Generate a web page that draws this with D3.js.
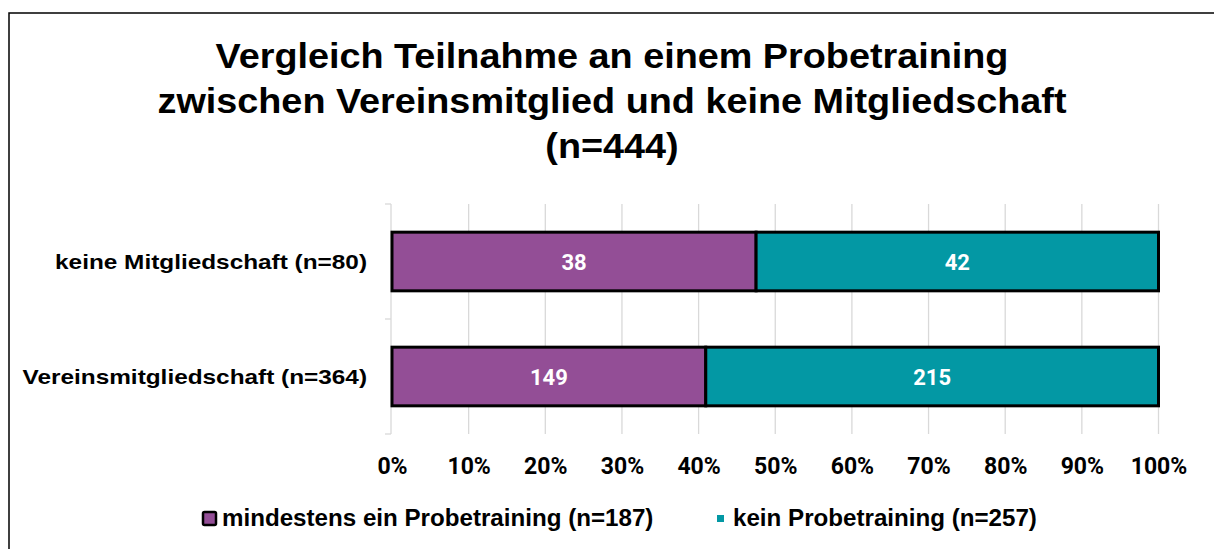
<!DOCTYPE html>
<html>
<head>
<meta charset="utf-8">
<script src="https://cdn.jsdelivr.net/npm/d3@7"></script>
<style>
  html, body { margin: 0; padding: 0; background: #fff; }
  svg { display: block; }
</style>
</head>
<body>
<svg id="chart" width="1214" height="549"></svg>
<script>
// Groups (top to bottom) and counts per answer
const categories = ["keine Mitgliedschaft (n=80)", "Vereinsmitgliedschaft (n=364)"];
const probetraining = [38, 149];      // mindestens ein Probetraining
const keinProbetraining = [42, 215];  // kein Probetraining
const seriesNames = ["mindestens ein Probetraining (n=187)", "kein Probetraining (n=257)"];
const tickValues = [0, 0.1, 0.2, 0.3, 0.4, 0.5, 0.6, 0.7, 0.8, 0.9, 1];
const referenceLine = 0.5;
const titleLines = [
  "Vergleich Teilnahme an einem Probetraining",
  "zwischen Vereinsmitglied und keine Mitgliedschaft",
  "(n=444)"
];

const colors = ["#934E96", "#0398A4"];
const sansBold = "Liberation Sans, Arial, Helvetica, sans-serif";

const svg = d3.select("#chart");
const W = 1214, H = 549;

// outer frame
svg.append("rect")
  .attr("x", 9).attr("y", 13)
  .attr("width", W + 10).attr("height", H + 10)
  .attr("fill", "#fff").attr("stroke", "#000").attr("stroke-width", 1.5);

// title (wide bold face, stretched horizontally)
svg.append("g").selectAll("g")
  .data(titleLines).join("g")
  .attr("transform", (d, i) => `translate(612,${68 + i * 45}) scale(1.08,1)`)
  .append("text")
  .attr("text-anchor", "middle")
  .attr("font-family", sansBold)
  .attr("font-weight", "bold")
  .attr("font-size", 35)
  .attr("fill", "#000")
  .text(d => d);

const x = d3.scaleLinear().domain([0, 1]).range([392, 1158.5]);
const y = d3.scaleBand().domain(categories).range([204, 434]).paddingInner(0.49).paddingOuter(0.245);

// stacked shares per group
const rows = categories.map((c, i) => {
  const total = probetraining[i] + keinProbetraining[i];
  return { cat: c, values: [probetraining[i], keinProbetraining[i]], total };
});
const stack = d3.stack().keys([0, 1]).value((d, k) => d.values[k] / d.total);
const stacked = stack(rows);

// vertical gridlines
svg.append("g").selectAll("line")
  .data(tickValues.slice(1)).join("line")
  .attr("x1", d => x(d)).attr("x2", d => x(d))
  .attr("y1", 204).attr("y2", 434)
  .attr("stroke", "#d9d9d9").attr("stroke-width", 1.3);

// category axis with outward ticks between groups
const yAxisLine = svg.append("g").attr("stroke", "#d9d9d9").attr("stroke-width", 1.3);
yAxisLine.append("line").attr("x1", 391).attr("x2", 391).attr("y1", 204).attr("y2", 434);
const yBounds = [204, (y(categories[0]) + y.bandwidth() + y(categories[1])) / 2, 434];
yAxisLine.selectAll("line.t").data(yBounds).join("line").attr("class", "t")
  .attr("x1", 385).attr("x2", 391).attr("y1", d => d).attr("y2", d => d);

// bars
const layers = svg.append("g").selectAll("g")
  .data(stacked).join("g")
  .attr("fill", (d, i) => colors[i]);

layers.selectAll("rect")
  .data(d => d.map(s => ({ s, row: s.data }))).join("rect")
  .attr("x", d => x(d.s[0]))
  .attr("y", d => y(d.row.cat))
  .attr("width", d => x(d.s[1]) - x(d.s[0]))
  .attr("height", y.bandwidth())
  .attr("stroke", "#000")
  .attr("stroke-width", 3);

// value labels
layers.selectAll("text")
  .data((d, k) => d.map(s => ({ s, row: s.data, k }))).join("text")
  .attr("x", d => (x(d.s[0]) + x(d.s[1])) / 2)
  .attr("y", d => y(d.row.cat) + y.bandwidth() / 2 + 8)
  .attr("text-anchor", "middle")
  .attr("font-family", "Roboto, sans-serif")
  .attr("font-weight", "bold")
  .attr("font-size", 22)
  .attr("fill", "#fff")
  .text(d => d.row.values[d.k]);

// category labels
svg.append("g").selectAll("g")
  .data(categories).join("g")
  .attr("transform", d => `translate(367,${y(d) + y.bandwidth() / 2 + 7.5}) scale(1.16,1)`)
  .append("text")
  .attr("text-anchor", "end")
  .attr("font-family", sansBold)
  .attr("font-weight", "bold")
  .attr("font-size", 21)
  .attr("fill", "#000")
  .text(d => d);

// percentage axis labels
const xAxis = d3.axisBottom(x).tickValues(tickValues).tickFormat(d3.format(".0%")).tickSize(0).tickPadding(0);
const gx = svg.append("g").attr("transform", "translate(0,474)").call(xAxis);
gx.select(".domain").remove();
gx.selectAll("text")
  .attr("dy", 0).attr("y", 0)
  .attr("font-family", "Roboto, sans-serif")
  .attr("font-weight", "bold")
  .attr("font-size", 23)
  .attr("fill", "#000");

// 50% reference line with a soft shadow
const defs = svg.append("defs");
const f = defs.append("filter").attr("id", "shadow").attr("x", "-50%").attr("y", "-5%").attr("width", "200%").attr("height", "110%");
f.append("feDropShadow").attr("dx", 1).attr("dy", 2).attr("stdDeviation", 1.5).attr("flood-color", "#000").attr("flood-opacity", 0.3);
svg.append("line")
  .attr("x1", x(referenceLine) + 0.5).attr("x2", x(referenceLine) + 0.5)
  .attr("y1", 188).attr("y2", 435)
  .attr("stroke", "#F5BE00").attr("stroke-width", 4)
  .attr("filter", "url(#shadow)");

// legend
const legend = svg.append("g");
legend.append("rect").attr("x", 203).attr("y", 512).attr("width", 13).attr("height", 13)
  .attr("fill", colors[0]).attr("stroke", "#000").attr("stroke-width", 2.5).attr("rx", 1.5);
legend.append("rect").attr("x", 717).attr("y", 515).attr("width", 7).attr("height", 7)
  .attr("fill", colors[1]);
legend.selectAll("g.item")
  .data(seriesNames).join("g").attr("class", "item")
  .attr("transform", (d, i) => `translate(${i === 0 ? 222 : 733},526) scale(1.05,1)`)
  .append("text")
  .attr("font-family", sansBold)
  .attr("font-weight", "bold")
  .attr("font-size", 23)
  .attr("fill", "#000")
  .text(d => d);
</script>
</body>
</html>
